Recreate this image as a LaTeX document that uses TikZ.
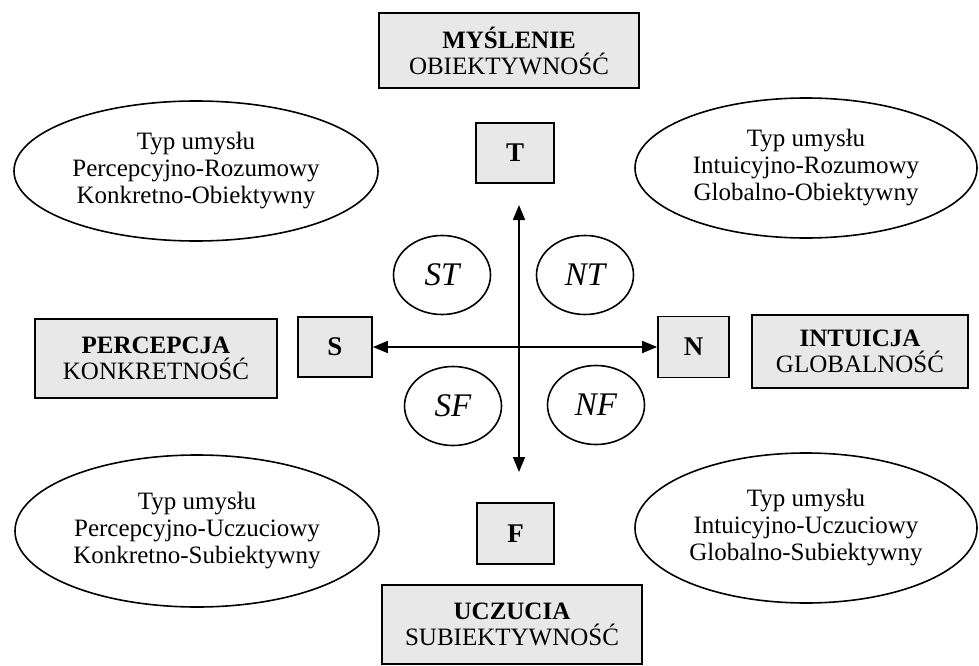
\documentclass[tikz,border=0pt]{standalone}
\usepackage{fontspec}
\setmainfont{Liberation Serif}
\usetikzlibrary{shapes.geometric,arrows.meta}
\tikzset{
  dimbox/.style={draw=black, line width=1.7pt, fill=black!9, rectangle, inner sep=0pt, align=center,
    font=\fontsize{25}{26}\selectfont},
  letterbox/.style={draw=black, line width=1.7pt, fill=black!9, rectangle, inner sep=0pt,
    font=\fontsize{27}{27}\selectfont\bfseries},
  bigell/.style={draw=black, line width=1.6pt, ellipse, inner sep=0pt, align=center,
    font=\fontsize{25}{27}\selectfont},
  smallell/.style={draw=black, line width=1.6pt, ellipse, inner sep=0pt, minimum width=97pt, minimum height=79pt,
    font=\fontsize{33}{33}\selectfont\itshape},
  axis/.style={line width=1.6pt, {Triangle[length=15pt,width=12pt]}-{Triangle[length=15pt,width=12pt]}}
}
\begin{document}
\begin{tikzpicture}[x=1pt,y=-1pt]
\useasboundingbox (0,0) rectangle (979,666);
% dimension boxes
\node[dimbox, minimum width=260pt, minimum height=75pt] (mys) at (509,50.5) {\textbf{MYŚLENIE}\\OBIEKTYWNOŚĆ};
\node[dimbox, minimum width=242pt, minimum height=79pt] (per) at (156,358.5) {\textbf{PERCEPCJA}\\KONKRETNOŚĆ};
\node[dimbox, minimum width=216pt, minimum height=73pt] (int) at (860,351.5) {\textbf{INTUICJA}\\GLOBALNOŚĆ};
\node[dimbox, minimum width=260pt, minimum height=79pt] (ucz) at (512,624.5) {\textbf{UCZUCIA}\\SUBIEKTYWNOŚĆ};
% letter boxes
\node[letterbox, minimum width=78pt, minimum height=60pt] (T) at (515,153) {T};
\node[letterbox, minimum width=74pt, minimum height=60pt] (S) at (335,347) {S};
\node[letterbox, minimum width=71pt, minimum height=61pt] (N) at (693.5,347) {N};
\node[letterbox, minimum width=77pt, minimum height=61pt] (F) at (515.5,533.5) {F};
% type ellipses
\node[bigell, minimum width=364pt, minimum height=140pt] (tl) at (196,171) {Typ umysłu\\Percepcyjno-Rozumowy\\Konkretno-Obiektywny};
\node[bigell, minimum width=342pt, minimum height=140pt] (tr) at (806,168) {Typ umysłu\\Intuicyjno-Rozumowy\\Globalno-Obiektywny};
\node[bigell, minimum width=364pt, minimum height=152pt] (bl) at (197,531) {Typ umysłu\\Percepcyjno-Uczuciowy\\Konkretno-Subiektywny};
\node[bigell, minimum width=342pt, minimum height=150pt] (br) at (806,528) {Typ umysłu\\Intuicyjno-Uczuciowy\\ Globalno-Subiektywny};
% small ellipses
\node[smallell] (ST) at (442,275) {ST};
\node[smallell] (NT) at (585,275) {NT};
\node[smallell] (SF) at (453,406) {SF};
\node[smallell] (NF) at (596,405) {NF};
% axes
\coordinate (vt) at (519,205);
\coordinate (vb) at (519,472);
\draw[axis] (S.east) -- (N.west);
\draw[axis] (vt) -- (vb);
\end{tikzpicture}
\end{document}
